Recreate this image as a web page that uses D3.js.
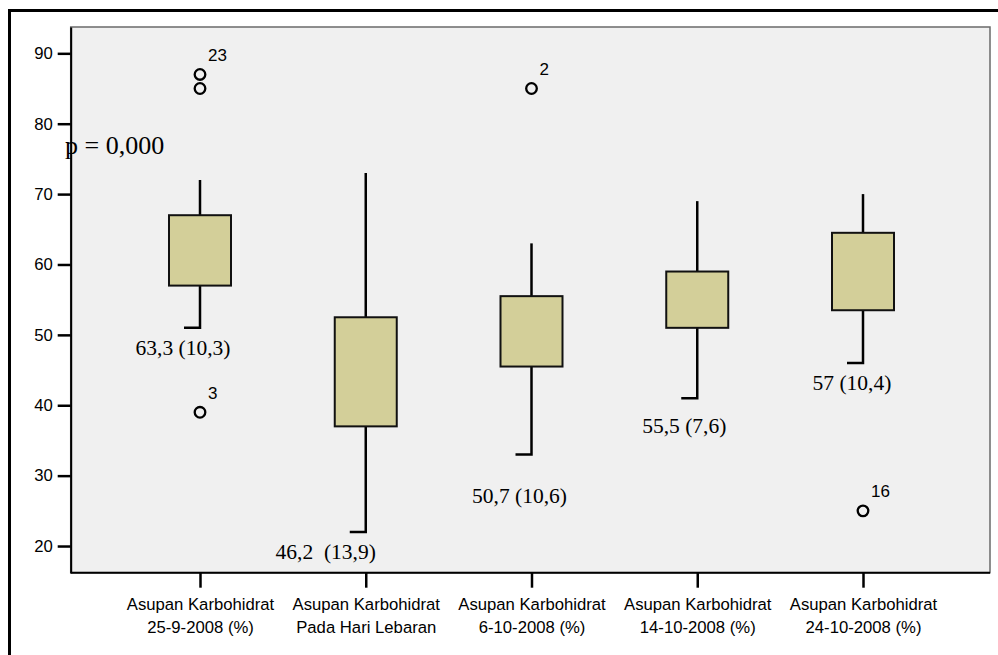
<!DOCTYPE html>
<html>
<head>
<meta charset="utf-8">
<script src="https://cdn.jsdelivr.net/npm/d3@7"></script>
<style>
  html, body { margin: 0; padding: 0; background: #fff; }
  svg { display: block; }
</style>
</head>
<body>
<svg id="chart" width="998" height="655"></svg>
<script>
// ---- data ----
const categories = [
  ["Asupan Karbohidrat", "25-9-2008 (%)"],
  ["Asupan Karbohidrat", "Pada Hari Lebaran"],
  ["Asupan Karbohidrat", "6-10-2008 (%)"],
  ["Asupan Karbohidrat", "14-10-2008 (%)"],
  ["Asupan Karbohidrat", "24-10-2008 (%)"]
];
const whiskerLow  = [51, 22, 33, 41, 46];
const q1          = [57, 37, 45.5, 51, 53.5];
const q3          = [67, 52.5, 55.5, 59, 64.5];
const whiskerHigh = [72, 73, 63, 69, 70];
const outlierCat   = [0, 0, 0, 2, 4];
const outlierValue = [87, 85, 39, 85, 25];
const outlierLabel = ["23", "", "3", "2", "16"];
const meanSdText = ["63,3 (10,3)", "46,2\u00a0\u00a0(13,9)", "50,7 (10,6)", "55,5 (7,6)", "57 (10,4)"];
const yTicks = [20, 30, 40, 50, 60, 70, 80, 90];
const pText = "p = 0,000";

// ---- layout ----
const svg = d3.select("#chart");
const L = 70.7, R = 990, T = 27, B = 572.7;

svg.append("line").attr("x1", 8).attr("x2", 998).attr("y1", 10.5).attr("y2", 10.5)
  .attr("stroke", "#000").attr("stroke-width", 3);
svg.append("line").attr("x1", 9.5).attr("x2", 9.5).attr("y1", 9).attr("y2", 655)
  .attr("stroke", "#000").attr("stroke-width", 3);

const y = d3.scaleLinear().domain([16.21, 93.74]).range([B, T]);
const idx = categories.map((d, i) => i);
const x = d3.scalePoint().domain(idx).range([200, 863]);

// plot background
svg.append("rect").attr("x", L).attr("y", T).attr("width", R - L).attr("height", B - T)
  .attr("fill", "#f0f0f0").attr("stroke", "#6a6a6a").attr("stroke-width", 1.5);

// axes
const yAxis = d3.axisLeft(y).tickValues(yTicks).tickSize(13).tickSizeOuter(0).tickPadding(5).tickFormat(d3.format("d"));
const gy = svg.append("g").attr("transform", `translate(${L},0)`).call(yAxis);
gy.select(".domain").attr("stroke", "#000").attr("stroke-width", 2);
gy.selectAll(".tick line").attr("stroke", "#000").attr("stroke-width", 2.5);
gy.selectAll(".tick text").attr("font-family", "Liberation Sans, Arial, sans-serif")
  .attr("font-size", 16.7).attr("fill", "#000");

const xAxis = d3.axisBottom(x).tickSize(15).tickSizeOuter(0).tickFormat(() => "");
const gx = svg.append("g").attr("transform", `translate(0,${B})`).call(xAxis);
gx.select(".domain").attr("d", `M${L},0H${R}`).attr("stroke", "#000").attr("stroke-width", 2);
gx.selectAll(".tick line").attr("stroke", "#000").attr("stroke-width", 2.5);
gx.selectAll(".tick").each(function(d) {
  const t = d3.select(this).append("text")
    .attr("font-family", "Liberation Sans, Arial, sans-serif")
    .attr("font-size", 16.7).attr("fill", "#000").attr("text-anchor", "middle");
  t.append("tspan").attr("x", 0).attr("y", 37.5).text(categories[d][0]);
  t.append("tspan").attr("x", 0).attr("y", 60.2).text(categories[d][1]);
});

// boxes
const bw = 62;
const g = svg.append("g");
idx.forEach(i => {
  const cx = x(i);
  // upper whisker (no cap)
  g.append("line").attr("x1", cx).attr("x2", cx)
    .attr("y1", y(whiskerHigh[i])).attr("y2", y(q3[i]))
    .attr("stroke", "#000").attr("stroke-width", 2.5);
  // lower whisker with half cap to the left
  g.append("path")
    .attr("d", `M${cx},${y(q1[i])}V${y(whiskerLow[i])}H${cx - 16}`)
    .attr("fill", "none").attr("stroke", "#000").attr("stroke-width", 2.5);
  g.append("rect").attr("x", cx - bw / 2).attr("y", y(q3[i]))
    .attr("width", bw).attr("height", y(q1[i]) - y(q3[i]))
    .attr("fill", "#d3cf99").attr("stroke", "#111").attr("stroke-width", 2);
});

// outliers
outlierValue.forEach((v, k) => {
  const cx = x(outlierCat[k]);
  g.append("circle").attr("cx", cx).attr("cy", y(v)).attr("r", 5.3)
    .attr("fill", "none").attr("stroke", "#000").attr("stroke-width", 2.3);
  if (outlierLabel[k]) {
    g.append("text").attr("x", cx + 8).attr("y", y(v) - 13.5)
      .attr("font-family", "Liberation Sans, Arial, sans-serif")
      .attr("font-size", 17).attr("fill", "#000").text(outlierLabel[k]);
  }
});

// mean (sd) annotations
const annOffsetX = [-17, -40, -12, -13, -11];
const annOffsetY = [27.5, 27.5, 48, 34.5, 27];
meanSdText.forEach((t, i) => {
  svg.append("text").attr("x", x(i) + annOffsetX[i]).attr("y", y(whiskerLow[i]) + annOffsetY[i])
    .attr("text-anchor", "middle")
    .attr("font-family", "Liberation Serif, Times New Roman, serif")
    .attr("font-size", 21.5).attr("fill", "#000").text(t);
});

svg.append("text").attr("x", 65).attr("y", 154)
  .attr("font-family", "Liberation Serif, Times New Roman, serif")
  .attr("font-size", 26).attr("fill", "#000").text(pText);
</script>
</body>
</html>
